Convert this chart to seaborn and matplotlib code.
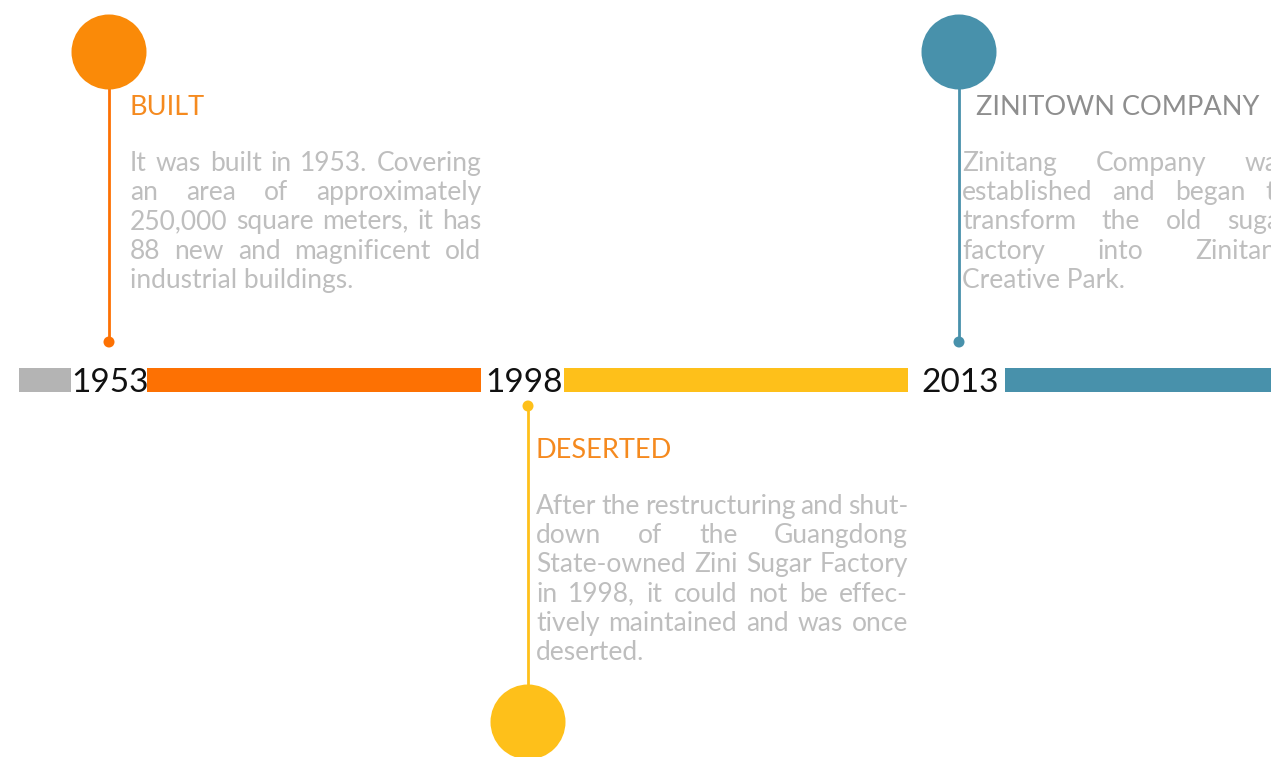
import matplotlib
matplotlib.use("Agg")
import matplotlib.pyplot as plt
from matplotlib import font_manager
from matplotlib.patches import Circle, Rectangle
import seaborn as sns

# timeline content
years = ["1953", "1998", "2013"]
titles = ["BUILT", "DESERTED", "ZINITOWN COMPANY"]
descriptions = [
    ["It was built in 1953. Covering",
     "an area of approximately",
     "250,000 square meters, it has",
     "88 new and magnificent old",
     "industrial buildings."],
    ["After the restructuring and shut-",
     "down of the Guangdong",
     "State-owned Zini Sugar Factory",
     "in 1998, it could not be effec-",
     "tively maintained and was once",
     "deserted."],
    ["Zinitang Company was",
     "established and began to",
     "transform the old sugar",
     "factory into Zinitang",
     "Creative Park."],
]
sides = ["up", "down", "up"]

# styles / layout (pixel coordinates)
circle_colors = ["#FA8A08", "#FEC01A", "#4891AB"]
line_colors = ["#FD7103", "#FEC01A", "#4891AB"]
title_colors = ["#F58A1F", "#F58A1F", "#8E8E8E"]
bar_colors = ["#B4B4B4", "#FD7103", "#FEC01A", "#4891AB"]
bar_edges = [(19, 71), (147, 481), (564, 908), (1005, 1280)]
year_x = [110, 524, 960]
stem_x = [109, 528, 959]
title_left = [130, 536, 976]
text_left = [130, 536, 962]
text_right = [481, 908, 1290]

W, H = 1271, 757
bar_y, bar_h = 380, 24

sns.set_theme(style="white")
names = {f.name for f in font_manager.fontManager.ttflist}
body_font = "Lato" if "Lato" in names else "DejaVu Sans"
plt.rcParams["font.family"] = [body_font, "DejaVu Sans"]

fig = plt.figure(figsize=(W / 100, H / 100), dpi=100)
ax = fig.add_axes([0, 0, 1, 1])
ax.set_xlim(0, W)
ax.set_ylim(H, 0)
ax.axis("off")
renderer = fig.canvas.get_renderer()

body_kw = dict(fontsize=19, color="#BEBEBE", fontweight="normal")


def justified(lines, x0, x1, y0, step):
    for i, line in enumerate(lines):
        y = y0 + i * step
        words = line.split()
        if i == len(lines) - 1 or len(words) == 1:
            ax.text(x0, y, line, ha="left", va="baseline", **body_kw)
            continue
        widths = []
        for w in words:
            t = ax.text(0, 0, w, **body_kw)
            widths.append(t.get_window_extent(renderer).width)
            t.remove()
        gap = (x1 - x0 - sum(widths)) / (len(words) - 1)
        x = x0
        for w, wd in zip(words, widths):
            ax.text(x, y, w, ha="left", va="baseline", **body_kw)
            x += wd + gap


# main bar
for (a, b), c in zip(bar_edges, bar_colors):
    ax.add_patch(Rectangle((a, bar_y - bar_h / 2), b - a, bar_h, color=c, lw=0))

for i, yr in enumerate(years):
    ax.text(year_x[i], 392, yr, ha="center", va="baseline", fontsize=24,
            color="#111111", fontweight="normal")

    sx = stem_x[i]
    if sides[i] == "up":
        cy, dot_y, title_y, desc_y = 52, 342, 115, 171
    else:
        cy, dot_y, title_y, desc_y = 722, 406, 458, 514
    ax.plot([sx, sx], [dot_y, cy], color=line_colors[i], lw=2, solid_capstyle="butt")
    ax.add_patch(Circle((sx, dot_y), 5.5, color=line_colors[i], lw=0))
    ax.add_patch(Circle((sx, cy), 37.5, color=circle_colors[i], lw=0, zorder=3))

    ax.text(title_left[i], title_y, titles[i], ha="left", va="baseline",
            fontsize=19.5, color=title_colors[i], fontweight="normal")
    justified(descriptions[i], text_left[i], text_right[i], desc_y, 29.2)

fig.savefig("out.png", dpi=100, facecolor="white")
